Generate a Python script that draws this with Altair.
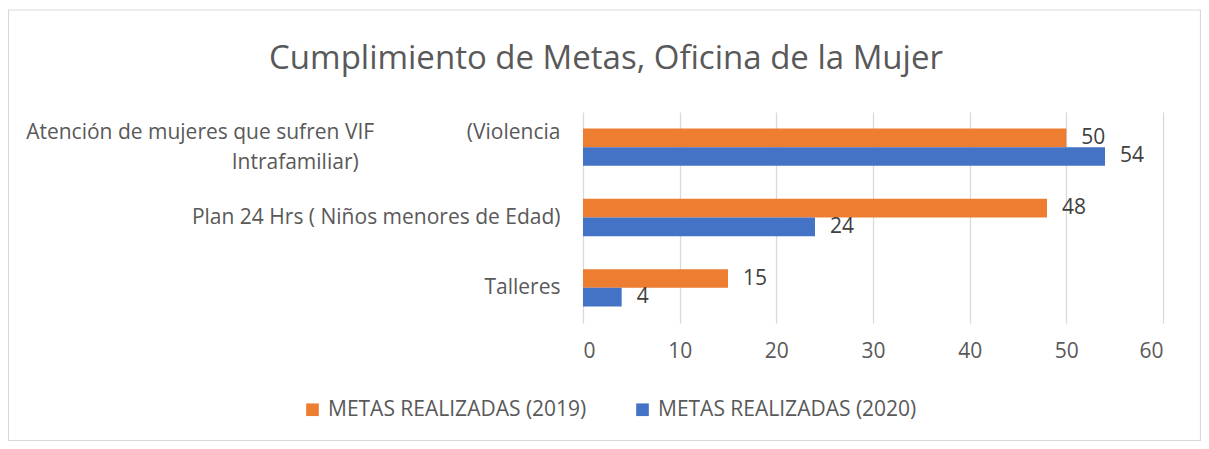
import altair as alt
import pandas as pd

categories = [
    "Atención de mujeres que sufren VIF (Violencia Intrafamiliar)",
    "Plan 24 Hrs ( Niños menores de Edad)",
    "Talleres",
]
series = ["METAS REALIZADAS (2019)", "METAS REALIZADAS (2020)"]
v2019 = [50, 48, 15]
v2020 = [54, 24, 4]
colors = ["#ED7D31", "#4472C4"]
x_ticks = [0, 10, 20, 30, 40, 50, 60]

FONT = "Open Sans"
FS = 21
NB = "\u00a0"
ZW = "\u200b"

rows = []
for c, a, b in zip(categories, v2019, v2020):
    rows.append({"categoria": c, "serie": series[0], "valor": a})
    rows.append({"categoria": c, "serie": series[1], "valor": b})
df = pd.DataFrame(rows)

line1 = "Atención de mujeres que sufren VIF" + NB * 17 + "(Violencia"
line2 = "Intrafamiliar)" + NB * 37 + ZW
label_expr = (
    f"datum.value == '{categories[0]}' ? ['{line1}', '{line2}'] : datum.value"
)

y_enc = alt.Y(
    "categoria:N",
    sort=categories,
    scale=alt.Scale(paddingInner=0.47, paddingOuter=0.235),
    axis=alt.Axis(
        title=None,
        ticks=False,
        domain=False,
        labelPadding=23,
        labelFontSize=FS,
        labelFont=FONT,
        labelColor="#595959",
        labelLimit=1000,
        labelLineHeight=30,
        labelExpr=label_expr,
        labelOffset={
            "condition": {"test": f"datum.value == '{categories[0]}'", "value": -14.5},
            "value": 0,
        },
    ),
)
yoff = alt.YOffset("serie:N", sort=series, scale=alt.Scale(paddingInner=0, paddingOuter=0))
x_enc = alt.X(
    "valor:Q",
    scale=alt.Scale(domain=[0, 60], nice=False),
    axis=alt.Axis(
        title=None,
        values=x_ticks,
        ticks=False,
        domain=False,
        grid=True,
        gridColor="#d9d9d9",
        gridWidth=1.3,
        labelPadding=17,
        labelFontSize=FS,
        labelFont=FONT,
        labelColor="#595959",
    ),
)

bars = alt.Chart(df).mark_bar().encode(
    y=y_enc,
    yOffset=yoff,
    x=x_enc,
    color=alt.Color(
        "serie:N",
        sort=series,
        scale=alt.Scale(domain=series, range=colors),
        legend=alt.Legend(
            title=None,
            orient="none",
            direction="horizontal",
            legendX=-281,
            legendY=287,
            symbolType="square",
            symbolSize=160,
            symbolStrokeWidth=0,
            labelFontSize=FS,
            labelFont=FONT,
            labelColor="#595959",
            labelOffset=5,
            columnPadding=45,
            padding=0,
            labelLimit=1000,
        ),
    ),
)

labels = alt.Chart(df).mark_text(
    align="left", baseline="middle", dx=15, fontSize=FS, font=FONT, color="#404040"
).encode(
    y=alt.Y("categoria:N", sort=categories),
    yOffset=alt.YOffset("serie:N", sort=series),
    x=alt.X("valor:Q"),
    text=alt.Text("valor:Q"),
)

frame = alt.Chart(pd.DataFrame({"k": [0]})).mark_rect(
    fill=None, stroke="#d9d9d9", strokeWidth=1.2
).encode(
    x=alt.value(-574.5),
    x2=alt.value(617.5),
    y=alt.value(-102),
    y2=alt.value(328.5),
)

chart = (
    alt.layer(frame, bars, labels)
    .properties(
        width=580,
        height=211,
        autosize=alt.AutoSizeParams(type="none"),
        padding={"left": 575, "top": 104, "right": 38, "bottom": 118},
        title=alt.TitleParams(
            "Cumplimiento de Metas, Oficina de la Mujer",
            anchor="middle",
            frame="group",
            dx=-267,
            offset=-67,
            fontSize=33,
            font=FONT,
            fontWeight="normal",
            color="#595959",
        ),
    )
    .configure_view(stroke=None)
)

chart.save("out.html", embed_options={"renderer": "svg", "actions": False})
